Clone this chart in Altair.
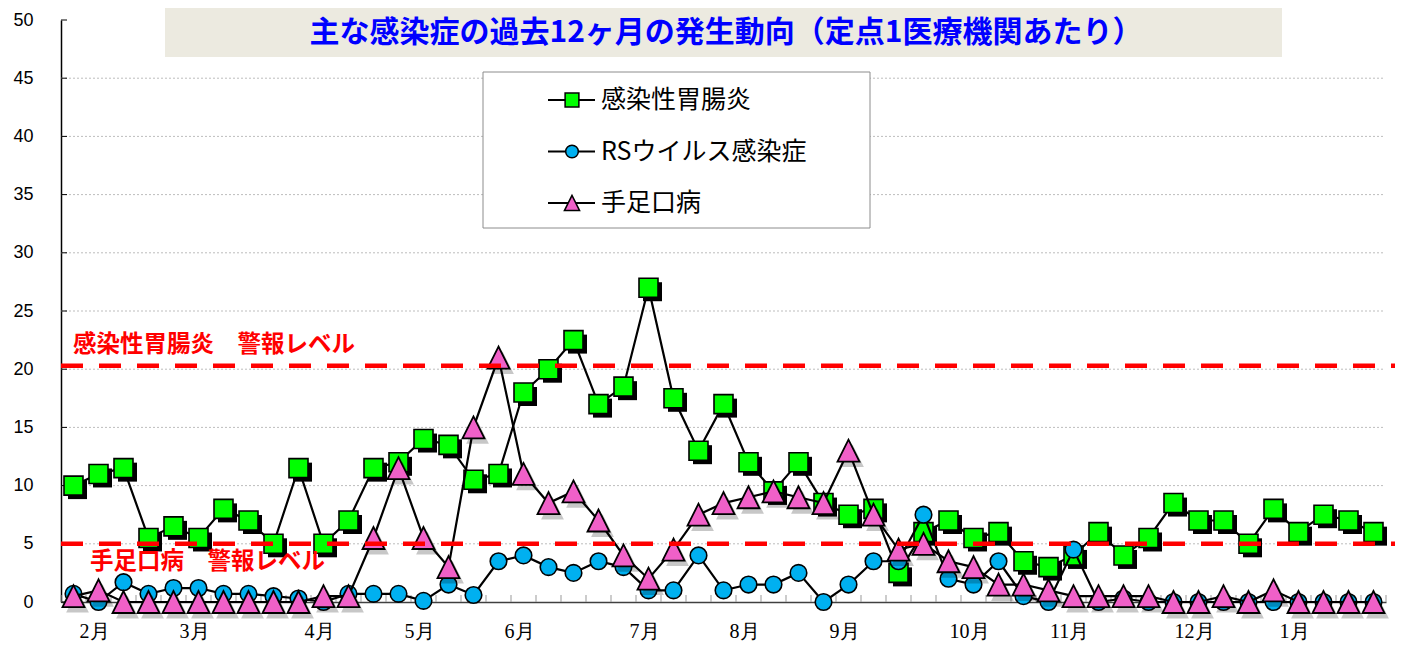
import altair as alt
import pandas as pd

# ---------------- data ----------------
weeks = list(range(1, 54))
gastro = [10, 11, 11.5, 5.5, 6.5, 5.5, 8, 7, 5, 11.5,
          5, 7, 11.5, 12, 14, 13.5, 10.5, 11, 18, 20,
          22.5, 17, 18.5, 27, 17.5, 13, 17, 12, 9.5, 12,
          8.5, 7.5, 8, 2.5, 6, 7, 5.5, 6, 3.5, 3,
          4, 6, 4, 5.5, 8.5, 7, 7, 5, 8, 6,
          7.5, 7, 6]
rs = [0.7, 0, 1.7, 0.7, 1.2, 1.2, 0.7, 0.7, 0.5, 0.3,
      0, 0.7, 0.7, 0.7, 0.1, 1.5, 0.6, 3.5, 4, 3,
      2.5, 3.5, 3, 1, 1, 4, 1, 1.5, 1.5, 2.5,
      0, 1.5, 3.5, 3.5, 7.5, 2, 1.5, 3.5, 0.5, 0,
      4.5, 0, 0.3, 0, 0, 0, 0, 0, 0, 0,
      0, 0, 0]
hfmd = [0.5, 1, 0, 0, 0, 0, 0, 0, 0, 0,
        0.5, 0.5, 5.5, 11.5, 5.5, 3, 15, 21, 11, 8.5,
        9.5, 7, 4, 2, 4.5, 7.5, 8.5, 9, 9.5, 9,
        8.5, 13, 7.5, 4.5, 5, 3.5, 3, 1.5, 1.5, 1,
        0.5, 0.5, 0.5, 0.5, 0, 0, 0.5, 0, 1, 0,
        0, 0, 0]
series_names = ["感染性胃腸炎", "RSウイルス感染症", "手足口病"]
month_labels = ["2月", "3月", "4月", "5月", "6月", "7月", "8月", "9月", "10月", "11月", "12月", "1月"]
month_weeks = [2, 6, 11, 15, 19, 24, 28, 32, 37, 41, 46, 50]
y_ticks = [0, 5, 10, 15, 20, 25, 30, 35, 40, 45, 50]
grid_values = [5, 10, 15, 20, 25, 30, 35, 40, 45]
alert_levels = [20.3, 5]
alert_labels = ["感染性胃腸炎　警報レベル", "手足口病　警報レベル"]
title_text = "主な感染症の過去12ヶ月の発生動向（定点1医療機関あたり）"

# ---------------- styling ----------------
W, H = 1325, 582
JP = "Noto Sans CJK JP"
GREEN, BLUE, PINK = "#00FF00", "#00B0F0", "#F060C8"
TRI = "M0,-1L-1,1L1,1Z"

xs = alt.Scale(domain=[0.5, 53.5], nice=False, zero=False)
ys = alt.Scale(domain=[0, 50], nice=False)

x_axis = alt.Axis(labels=False, ticks=False, domainColor="#404040", domainWidth=1.5,
                  grid=False, title=None)
y_axis = alt.Axis(values=y_ticks, labelFont="Liberation Sans", labelFontSize=18,
                  labelColor="black", domainColor="black", domainWidth=1.5,
                  ticks=False, tickSize=0, labelPadding=28, grid=False, title=None)


def X(field):
    return alt.X(field, scale=xs, axis=x_axis)


def Y(field):
    return alt.Y(field, scale=ys, axis=y_axis)


one = pd.DataFrame({"a": [0]})


def sdf(vals):
    return pd.DataFrame({"week": weeks, "value": vals})


layers = []

# gridlines
layers.append(alt.Chart(pd.DataFrame({"v": grid_values})).mark_rule(
    color="#BDBDBD", strokeDash=[2, 2], strokeWidth=1).encode(
    y=Y("v:Q"), x=alt.value(0), x2=alt.value(W - 3)))

# inner y ticks
layers.append(alt.Chart(pd.DataFrame({"v": y_ticks})).mark_rule(
    color="black", strokeWidth=1).encode(
    y=Y("v:Q"), x=alt.value(0), x2=alt.value(6)))

# inner x ticks at week boundaries
bounds = [w - 0.5 for w in weeks] + [weeks[-1] + 0.5]
layers.append(alt.Chart(pd.DataFrame({"b": bounds})).mark_rule(
    color="#999999", strokeWidth=1).encode(
    x=X("b:Q"), y=alt.value(H - 7), y2=alt.value(H)))

# title box
layers.append(alt.Chart(one).mark_rect(color="#ECEAE0").encode(
    x=alt.value(104), x2=alt.value(1221), y=alt.value(-12), y2=alt.value(37)))
layers.append(alt.Chart(pd.DataFrame({"t": [title_text]})).mark_text(
    font=JP, fontSize=30, fontWeight="bold", color="#0000FF", align="center",
    baseline="middle").encode(x=alt.value(665), y=alt.value(13), text="t:N"))

# series 1: gastro (squares with hard shadow)
g = alt.Chart(sdf(gastro))
layers.append(g.mark_line(color="black", strokeWidth=2.2).encode(x=X("week:Q"), y=Y("value:Q")))
layers.append(g.mark_point(shape="square", filled=True, color="black", size=361,
                           opacity=1, xOffset=4, yOffset=4).encode(x=X("week:Q"), y=Y("value:Q")))
layers.append(g.mark_point(shape="square", filled=True, fill=GREEN, stroke="black",
                           strokeWidth=1.6, size=361, opacity=1).encode(x=X("week:Q"), y=Y("value:Q")))

# series 2: RS (circles)
r = alt.Chart(sdf(rs))
layers.append(r.mark_line(color="black", strokeWidth=2.2).encode(x=X("week:Q"), y=Y("value:Q")))
layers.append(r.mark_point(shape="circle", filled=True, fill=BLUE, stroke="black",
                           strokeWidth=1.6, size=275, opacity=1).encode(x=X("week:Q"), y=Y("value:Q")))

# series 3: HFMD (triangles with soft shadow)
h = alt.Chart(sdf(hfmd))
layers.append(h.mark_line(color="black", strokeWidth=2.2).encode(x=X("week:Q"), y=Y("value:Q")))
layers.append(h.mark_point(shape=TRI, filled=True, color="#000000", size=520,
                           opacity=0.22, xOffset=4, yOffset=5).encode(x=X("week:Q"), y=Y("value:Q")))
layers.append(h.mark_point(shape=TRI, filled=True, fill=PINK, stroke="black",
                           strokeWidth=1.8, size=484, opacity=1).encode(x=X("week:Q"), y=Y("value:Q")))

# alert lines
layers.append(alt.Chart(pd.DataFrame({"v": alert_levels})).mark_rule(
    color="#FF0000", strokeWidth=4.5, strokeDash=[22, 16]).encode(
    y=Y("v:Q"), x=alt.value(0), x2=alt.value(W + 9)))

# alert labels
label_pos = [(12, 325), (29, 542)]
for txt, (lx, ly) in zip(alert_labels, label_pos):
    layers.append(alt.Chart(pd.DataFrame({"t": [txt]})).mark_text(
        font=JP, fontSize=23.5, fontWeight="bold", color="#FF0000", align="left",
        baseline="middle").encode(x=alt.value(lx), y=alt.value(ly), text="t:N"))

# month labels
layers.append(alt.Chart(pd.DataFrame({"week": month_weeks, "m": month_labels})).mark_text(
    font="Liberation Serif", fontSize=20, color="black", align="center",
    baseline="middle", dx=-4).encode(x=X("week:Q"), y=alt.value(612), text="m:N"))

# legend
layers.append(alt.Chart(one).mark_rect(fill="white", stroke="#8C8C8C", strokeWidth=1).encode(
    x=alt.value(422), x2=alt.value(809), y=alt.value(52), y2=alt.value(208)))
leg_shapes = ["square", "circle", TRI]
leg_fills = [GREEN, BLUE, PINK]
leg_sizes = [190, 160, 230]
for i, name in enumerate(series_names):
    yy = 80 + 51.5 * i
    layers.append(alt.Chart(one).mark_rule(color="black", strokeWidth=2).encode(
        x=alt.value(487), x2=alt.value(534), y=alt.value(yy)))
    layers.append(alt.Chart(one).mark_point(shape=leg_shapes[i], filled=True,
                                            fill=leg_fills[i], stroke="black",
                                            strokeWidth=1.5, size=leg_sizes[i],
                                            opacity=1).encode(
        x=alt.value(511), y=alt.value(yy)))
    layers.append(alt.Chart(pd.DataFrame({"t": [name]})).mark_text(
        font=JP, fontSize=25, color="black", align="left", baseline="middle").encode(
        x=alt.value(540), y=alt.value(yy), text="t:N"))

chart = alt.layer(*layers).properties(
    width=W, height=H,
    autosize=alt.AutoSizeParams(type="none"),
    padding={"left": 53, "top": 12, "right": 11, "bottom": 42},
    background="white",
).configure_view(stroke=None)

chart.save("out.html", embed_options={"renderer": "svg", "actions": False})
